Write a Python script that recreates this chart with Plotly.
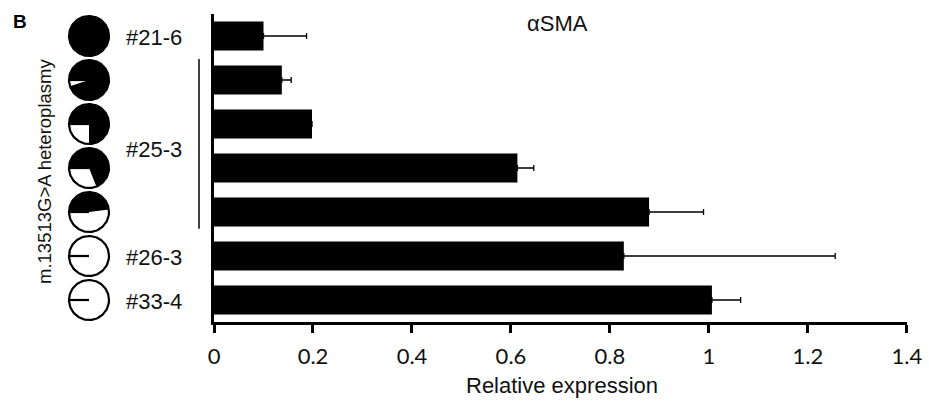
import numpy as np
import plotly.graph_objects as go

# ---- data ----
rows = [0, 1, 2, 3, 4, 5, 6]
expression = [0.100, 0.137, 0.198, 0.613, 0.879, 0.828, 1.006]
error_plus = [0.087, 0.019, 0.0, 0.033, 0.110, 0.427, 0.058]
heteroplasmy = [1.00, 0.95, 0.75, 0.69, 0.48, 0.0, 0.0]
clone_labels = ["#21-6", "#25-3", "#26-3", "#33-4"]
clone_first_row = [0, 1, 5, 6]
clone_last_row = [0, 4, 5, 6]
x_ticks = [0, 0.2, 0.4, 0.6, 0.8, 1.0, 1.2, 1.4]
x_tick_text = ["0", "0.2", "0.4", "0.6", "0.8", "1", "1.2", "1.4"]

W, H = 929, 401
PLOT_TOP, PLOT_BOT = 14, 322
X0_PX, X1_PX = 214, 907
PLOT_H = PLOT_BOT - PLOT_TOP
ROW_PX = PLOT_H / len(rows)


def px(x):
    return x / W


def py(y):
    return 1 - (y - PLOT_TOP) / PLOT_H


fig = go.Figure()

fig.add_trace(go.Bar(
    y=rows, x=expression, orientation="h",
    marker=dict(color="#000000", line=dict(width=0)),
    error_x=dict(type="data", array=error_plus, arrayminus=[0] * len(rows),
                 symmetric=False, color="#000000", thickness=1.3, width=3),
    showlegend=False, hoverinfo="x",
))

# ---- pie icons on an auxiliary axis (1 unit = one row height) ----
cx = 89 / ROW_PX
r = 20 / ROW_PX
wx, wy, ox, oy = [], [], [], []
for row, h in zip(rows, heteroplasmy):
    if h > 0:
        th = np.deg2rad(np.linspace(180, 180 - 360 * h, 120))
        wx += [cx] + list(cx + r * np.cos(th)) + [cx, None]
        wy += [row] + list(row - r * np.sin(th)) + [row, None]
    th = np.linspace(0, 2 * np.pi, 150)
    ox += list(cx + r * np.cos(th)) + [None, cx, cx - r, None]
    oy += list(row - r * np.sin(th)) + [None, row, row, None]

fig.add_trace(go.Scatter(x=wx, y=wy, xaxis="x2", yaxis="y2", mode="lines",
                         fill="toself", fillcolor="#000000",
                         line=dict(width=0, color="#000000"),
                         showlegend=False, hoverinfo="skip"))
fig.add_trace(go.Scatter(x=ox, y=oy, xaxis="x2", yaxis="y2", mode="lines",
                         line=dict(width=2.2, color="#000000"),
                         showlegend=False, hoverinfo="skip"))

annotations = []
lab_font = dict(family="Liberation Sans, Arial, sans-serif", size=22, color="#111111")
for lab, a, b in zip(clone_labels, clone_first_row, clone_last_row):
    annotations.append(dict(text=lab, x=184 / ROW_PX,
                            y=(a + b) / 2 + (0.07 if b > a else 0.03),
                            xref="x2", yref="y2", xanchor="right", yanchor="middle",
                            showarrow=False, font=lab_font))
    if b > a:
        fig.add_shape(type="line", xref="x2", yref="y2",
                      x0=199 / ROW_PX, x1=199 / ROW_PX,
                      y0=a - 0.48, y1=b + 0.38,
                      line=dict(color="#000000", width=1.5))

annotations += [
    dict(text="αSMA", x=px(557), y=py(23), xref="paper", yref="paper",
         xanchor="center", yanchor="middle", showarrow=False, font=lab_font),
    dict(text="<b>B</b>", x=px(19.5), y=py(21.5), xref="paper", yref="paper",
         xanchor="center", yanchor="middle", showarrow=False,
         font=dict(family="Liberation Sans, Arial, sans-serif", size=19, color="#000000")),
    dict(text="m.13513G>A heteroplasmy", x=px(44), y=py(172),
         xref="paper", yref="paper", xanchor="center", yanchor="middle", textangle=-90,
         showarrow=False, font=dict(family="Liberation Sans, Arial, sans-serif", size=18.5, color="#111111")),
    dict(text="Relative expression", x=px(562), y=py(385),
         xref="paper", yref="paper", xanchor="center", yanchor="middle",
         showarrow=False, font=lab_font),
]

fig.update_layout(
    width=W, height=H,
    margin=dict(l=0, r=0, t=PLOT_TOP, b=H - PLOT_BOT, autoexpand=False),
    paper_bgcolor="white", plot_bgcolor="white",
    bargap=1 - 29 / 44,
    showlegend=False,
    annotations=annotations,
    xaxis=dict(domain=[px(X0_PX), px(X1_PX)], range=[0, 1.4001],
               tickvals=x_ticks, ticktext=x_tick_text,
               showline=True, linewidth=2.5, linecolor="#000000",
               ticks="outside", ticklen=8, tickwidth=2.5, tickcolor="#000000",
               ticklabelstandoff=5,
               showgrid=False, zeroline=False, automargin=False,
               tickfont=dict(family="Lato, sans-serif", size=22, color="#111111")),
    yaxis=dict(range=[6.5, -0.5], showline=True, linewidth=3, linecolor="#000000",
               showticklabels=False, ticks="", showgrid=False, zeroline=False,
               automargin=False),
    xaxis2=dict(domain=[0, X0_PX / W], range=[0, X0_PX / ROW_PX], visible=False,
                anchor="y2", fixedrange=True),
    yaxis2=dict(domain=[0, 1], range=[6.5, -0.5], visible=False, anchor="x2",
                overlaying="y", fixedrange=True),
)

fig.write_html(
    "out.html",
    config={"displayModeBar": False},
    post_script="document.body.style.margin='0px';"
                "document.documentElement.style.overflow='hidden';",
)
